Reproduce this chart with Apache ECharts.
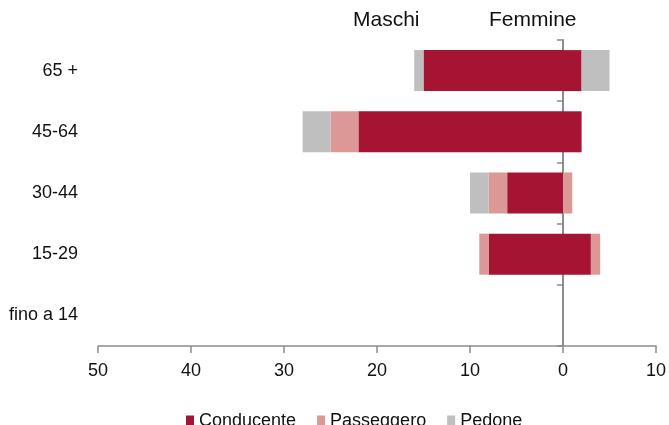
<!DOCTYPE html>
<html>
<head>
<meta charset="utf-8">
<script src="https://cdn.jsdelivr.net/npm/echarts@6/dist/echarts.min.js"></script>
<style>html,body{margin:0;padding:0;background:#fff}#c{width:669px;height:425px}</style>
</head>
<body>
<div id="c"></div>
<script>
const categories = ['65 +', '45-64', '30-44', '15-29', 'fino a 14'];
const types = ['Conducente', 'Passeggero', 'Pedone'];
const maschiConducente = [15, 22, 6, 8, 0];
const maschiPasseggero = [0, 3, 2, 1, 0];
const maschiPedone = [1, 3, 2, 0, 0];
const femmineConducente = [2, 2, 0, 3, 0];
const femminePasseggero = [0, 0, 1, 1, 0];
const femminePedone = [3, 0, 0, 0, 0];
const xTicks = { min: -10, max: 50, interval: 10 };

const colors = ['#A51433', '#DB9896', '#BFBFBF'];
const font = '"Liberation Sans", Arial, sans-serif';
const axisGray = '#8c8c8c';

const maleData = [maschiConducente, maschiPasseggero, maschiPedone];
const femaleData = [femmineConducente, femminePasseggero, femminePedone];
const series = [];
types.forEach((t, i) => {
  series.push({ name: t, type: 'bar', stack: 'tot', yAxisIndex: 0, barWidth: 41,
    itemStyle: { color: colors[i] }, data: maleData[i] });
});
types.forEach((t, i) => {
  series.push({ name: t, type: 'bar', stack: 'tot', yAxisIndex: 0, barWidth: 41,
    itemStyle: { color: colors[i] }, data: femaleData[i].map(v => -v) });
});

const chart = echarts.init(document.getElementById('c'), null, { renderer: 'canvas' });
chart.setOption({
  animation: false,
  textStyle: { fontFamily: font },
  grid: { left: 98, right: 11, top: 40, bottom: 79, containLabel: false },
  legend: {
    data: types, left: 181, top: 407, itemWidth: 8, itemHeight: 11, itemGap: 21,
    icon: 'rect',
    textStyle: { fontFamily: font, fontSize: 18, color: '#111' }
  },
  xAxis: {
    type: 'value', inverse: true, min: xTicks.min, max: xTicks.max, interval: xTicks.interval,
    splitLine: { show: false },
    axisLine: { show: true, onZero: false, lineStyle: { color: axisGray, width: 1.5 } },
    axisTick: { show: true, length: 7, lineStyle: { color: axisGray, width: 1.5 } },
    axisLabel: { fontFamily: font, fontSize: 18, color: '#111', margin: 16,
      formatter: v => String(Math.abs(v)) }
  },
  yAxis: [
    {
      type: 'category', data: categories, inverse: true, position: 'left',
      axisLine: { show: false, onZero: false }, axisTick: { show: false },
      axisLabel: { fontFamily: font, fontSize: 18, color: '#111', margin: 20 }
    },
    {
      type: 'category', data: categories, inverse: true, position: 'left',
      axisLine: { show: true, onZero: true, lineStyle: { color: axisGray, width: 2 } },
      axisTick: { show: true, length: 6, lineStyle: { color: axisGray, width: 1.5 } },
      axisLabel: { show: false }
    }
  ],
  graphic: [
    { type: 'text', left: 353, top: 10, style: { text: 'Maschi', fontFamily: font, fontSize: 21, fill: '#111' } },
    { type: 'text', left: 489, top: 10, style: { text: 'Femmine', fontFamily: font, fontSize: 21, fill: '#111' } }
  ],
  series: series
});
</script>
</body>
</html>
